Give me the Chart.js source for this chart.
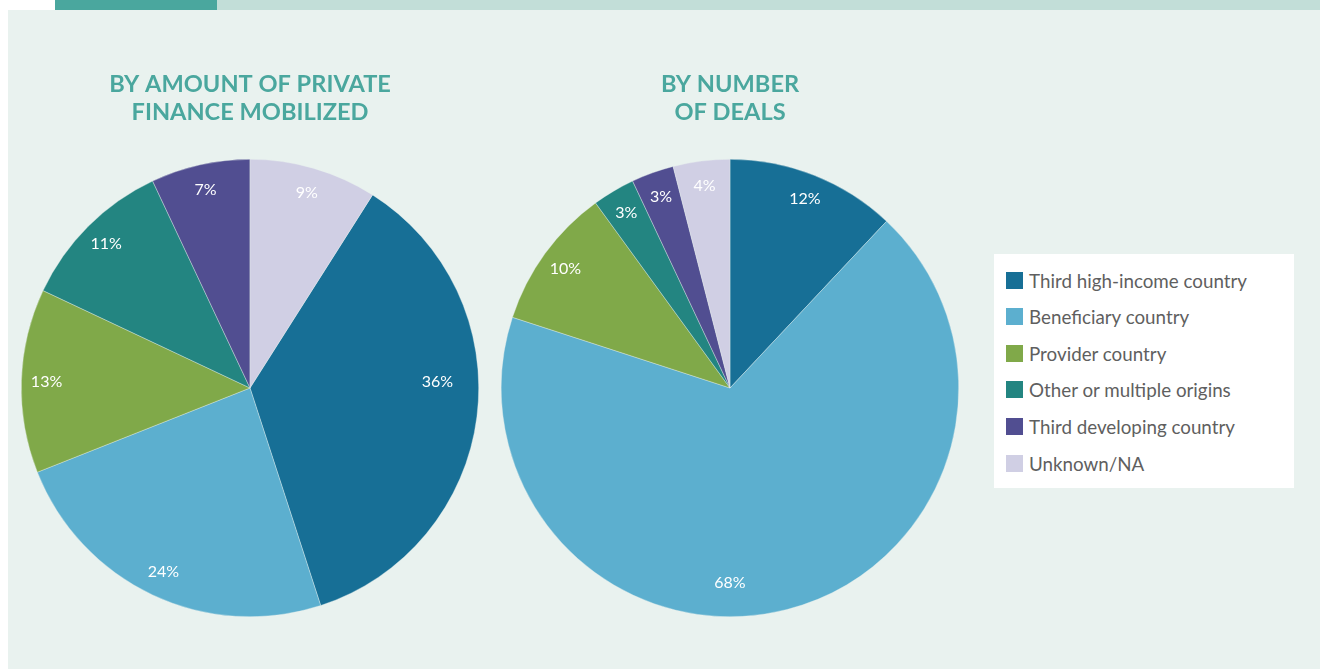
<!DOCTYPE html>
<html lang="en">

<head>
  <meta charset="UTF-8">
  <title>Private finance mobilized by origin</title>
  <script src="https://cdn.jsdelivr.net/npm/chart.js@4.4.0/dist/chart.umd.min.js"></script>
  <style>
    html, body { margin: 0; padding: 0; background: #fff; }
    body { width: 1320px; height: 669px; position: relative; overflow: hidden; font-family: Lato, sans-serif; }
    .bar-dark { position: absolute; left: 55px; top: 0; width: 162px; height: 10px; background: #4aa79e; }
    .bar-light { position: absolute; left: 217px; top: 0; right: 0; height: 10px; background: #c2ded8; }
    .panel { position: absolute; left: 8px; top: 10px; right: 0; bottom: 0; background: #e9f2ef; }
    canvas { position: absolute; top: 70px; }
    #pie1 { left: 10px; }
    #pie2 { left: 490px; }
    .legend { position: absolute; left: 994px; top: 254px; width: 300px; height: 234px; background: #fff; }
    .legend .row { position: absolute; left: 12px; height: 20px; display: flex; align-items: center; }
    .legend .box { width: 17px; height: 17px; margin-right: 6px; }
    .legend .txt { font-size: 18.8px; color: #5f5f5f; white-space: nowrap; }
  </style>
</head>

<body>
  <div class="panel"></div>
  <div class="bar-dark"></div>
  <div class="bar-light"></div>
  <canvas id="pie1" width="480" height="547"></canvas>
  <canvas id="pie2" width="480" height="547"></canvas>
  <div class="legend" id="legend"></div>

  <script>
    // data
    const categories = ['Third high-income country', 'Beneficiary country', 'Provider country',
      'Other or multiple origins', 'Third developing country', 'Unknown/NA'];
    const amountShares = [36, 24, 13, 11, 7, 9];
    const dealShares = [12, 68, 10, 3, 3, 4];
    const titleAmount = ['BY AMOUNT OF PRIVATE', 'FINANCE MOBILIZED'];
    const titleDeals = ['BY NUMBER', 'OF DEALS'];

    const colors = ['#176f96', '#5cafcf', '#80a949', '#238581', '#514e91', '#d0cfe4'];

    // percent labels inside the slices
    const sliceLabels = {
      id: 'sliceLabels',
      afterDatasetsDraw(chart) {
        const ctx = chart.ctx;
        const meta = chart.getDatasetMeta(0);
        const data = chart.data.datasets[0].data;
        ctx.save();
        ctx.fillStyle = '#fff';
        ctx.font = '16px Lato, sans-serif';
        ctx.textAlign = 'center';
        ctx.textBaseline = 'middle';
        meta.data.forEach((arc, i) => {
          const p = arc.getProps(['x', 'y', 'startAngle', 'endAngle', 'outerRadius'], true);
          let mid = (p.startAngle + p.endAngle) / 2;
          let r = p.outerRadius * 0.89;
          // big slices: label sits a bit closer to the centre
          if (data[i] > 30) {
            r = p.outerRadius * (data[i] > 50 ? 0.85 : 0.82);
            mid = data[i] > 50 ? Math.PI / 2 : mid - 0.16;
          }
          ctx.fillText(data[i] + '%', p.x + Math.cos(mid) * r, p.y + Math.sin(mid) * r);
        });
        ctx.restore();
      }
    };

    function makePie(id, values, title, rotation) {
      return new Chart(document.getElementById(id), {
        type: 'pie',
        data: {
          labels: categories,
          datasets: [{
            data: values,
            backgroundColor: colors,
            borderColor: 'rgba(233,242,239,0.6)',
            borderWidth: 0.6
          }]
        },
        options: {
          responsive: false,
          animation: false,
          rotation: rotation,
          layout: { padding: 0 },
          plugins: {
            legend: { display: false },
            tooltip: { enabled: false },
            title: {
              display: true,
              text: title,
              color: '#4aa79e',
              font: { family: 'Lato, sans-serif', size: 23.6, weight: 'bold', lineHeight: 28 / 23.6 },
              padding: { top: 0, bottom: 33 }
            }
          }
        },
        plugins: [sliceLabels]
      });
    }

    // first pie: the Unknown/NA slice ends at 12 o'clock
    makePie('pie1', amountShares, titleAmount, amountShares[5] * 3.6);
    makePie('pie2', dealShares, titleDeals, 0);

    // legend
    const legend = document.getElementById('legend');
    categories.forEach((c, i) => {
      const row = document.createElement('div');
      row.className = 'row';
      row.style.top = (16 + i * 36.6) + 'px';
      row.innerHTML = '<div class="box" style="background:' + colors[i] + '"></div><span class="txt">' + c + '</span>';
      legend.appendChild(row);
    });
  </script>
</body>

</html>
